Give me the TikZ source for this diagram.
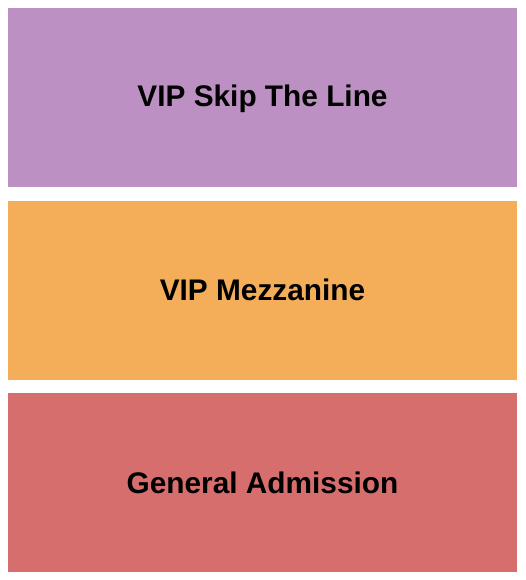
\documentclass[tikz,border=0pt]{standalone}
\usepackage{fontspec}
\setmainfont{Liberation Sans}
\definecolor{cpurple}{HTML}{BC90C3}
\definecolor{corange}{HTML}{F4AE5A}
\definecolor{cred}{HTML}{D66E6D}
\begin{document}
\begin{tikzpicture}[x=1pt,y=-1pt,
  sect/.style={draw=none,inner sep=0pt,anchor=base,font=\fontsize{29.8}{34}\selectfont\bfseries,text=black}]
\useasboundingbox (0,0) rectangle (525,580);
\fill[cpurple] (8,8) rectangle (517,187);
\fill[corange] (8,201) rectangle (517,380);
\fill[cred] (8,393) rectangle (517,572);
\node[sect] (vip) at (262.5,107) {VIP Skip The Line};
\node[sect] (mez) at (262.5,300) {VIP Mezzanine};
\node[sect] (ga) at (262.5,493) {General Admission};
\end{tikzpicture}
\end{document}
